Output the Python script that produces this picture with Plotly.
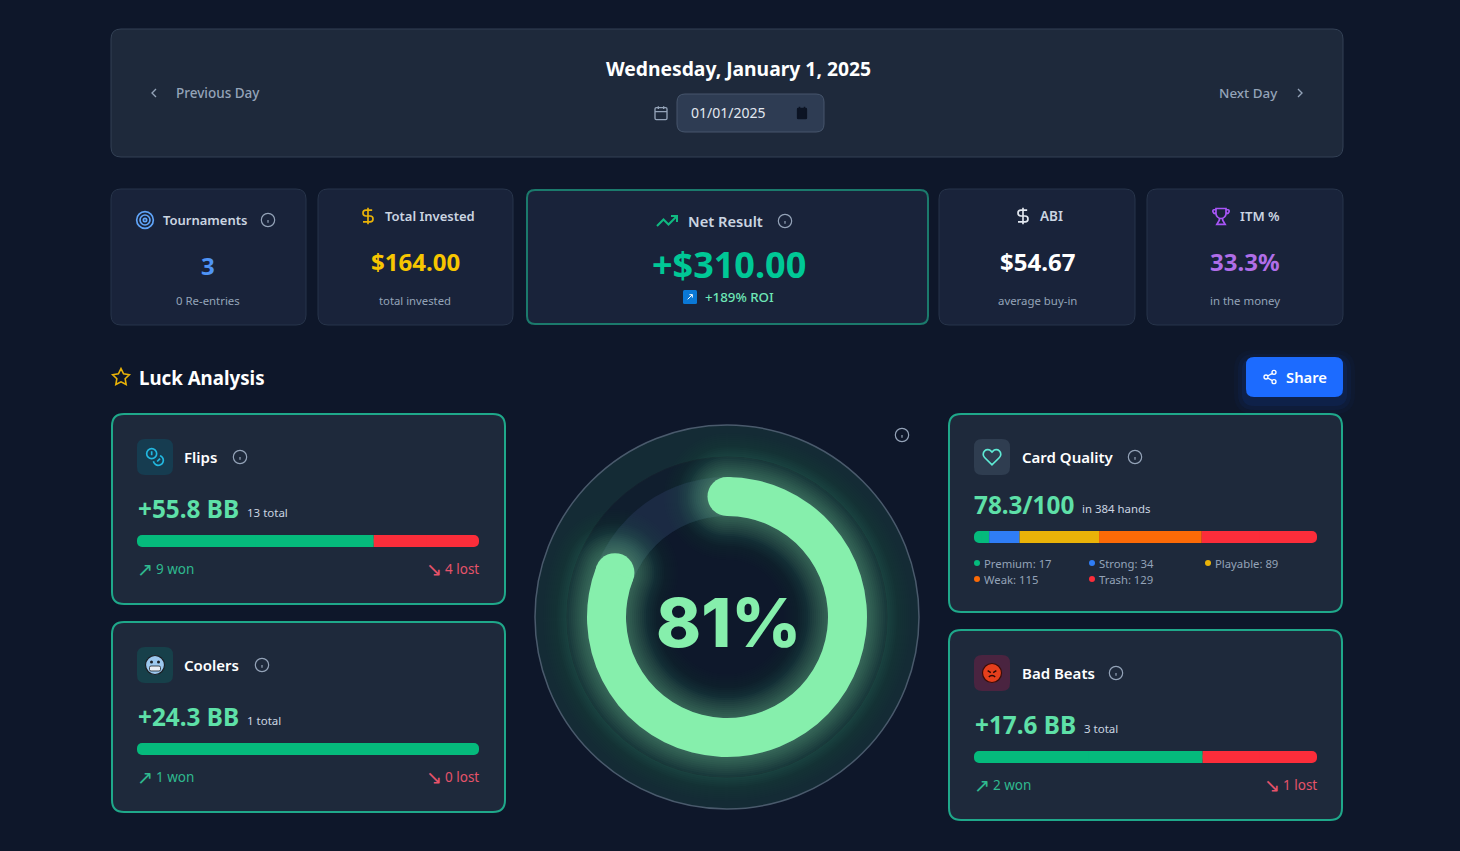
import re
import numpy as np
import plotly.graph_objects as go

# --- data ---
date_title = "Wednesday, January 1, 2025"
date_value = "01/01/2025"

stat_titles = ["Tournaments", "Total Invested", "Net Result", "ABI", "ITM %"]
stat_values = ["3", "$164.00", "+$310.00", "$54.67", "33.3%"]
stat_notes = ["0 Re-entries", "total invested", "+189% ROI", "average buy-in", "in the money"]

card_names = ["Flips", "Coolers", "Bad Beats"]
card_scores = ["+55.8 BB", "+24.3 BB", "+17.6 BB"]
card_totals = [13, 1, 3]
card_won = [9, 1, 2]
card_lost = [4, 0, 1]

quality_score = "78.3/100"
quality_hands = 384
hand_tiers = ["Premium", "Strong", "Playable", "Weak", "Trash"]
hand_counts = [17, 34, 89, 115, 129]

gauge_value = 81

# --- style ---
W, H = 1460, 851
FONT = "Noto Sans"
BG = "#0e172a"
PANEL = "#1e293b"
STAT = "#19233a"
TEAL = "#1fa88a"
GREEN = "#05ba7c"
RED = "#fb2d3a"
TIER_COLORS = ["#05ba7c", "#2f7df6", "#eab308", "#fb6a07", "#fb2d3a"]
GAUGE = "#86efac"
MUTED = "#94a3b8"

fig = go.Figure()
shapes = []
annotations = []
axis_count = [1]


def rrect(x0, y0, x1, y1, r):
    return (f"M{x0 + r} {y0} L{x1 - r} {y0} Q{x1} {y0} {x1} {y0 + r} L{x1} {y1 - r} Q{x1} {y1} {x1 - r} {y1} "
            f"L{x0 + r} {y1} Q{x0} {y1} {x0} {y1 - r} L{x0} {y0 + r} Q{x0} {y0} {x0 + r} {y0} Z")


def box(x0, y0, x1, y1, r, fill, border=None, width=1):
    shapes.append(dict(type="path", path=rrect(x0, y0, x1, y1, r), xref="x", yref="y", fillcolor=fill,
                       line=dict(color=border or "rgba(0,0,0,0)", width=width if border else 0), layer="below"))


def circle(cx, cy, r, fill="rgba(0,0,0,0)", border=None, width=1, layer="below"):
    shapes.append(dict(type="circle", xref="x", yref="y", x0=cx - r, x1=cx + r, y0=cy - r, y1=cy + r, fillcolor=fill,
                       line=dict(color=border or "rgba(0,0,0,0)", width=width if border else 0), layer=layer))


def icon(d, cx, cy, size, color, width=None, fill="rgba(0,0,0,0)"):
    # paths are written in a 24x24 box with absolute commands only
    scale = size / 24
    nums = iter(range(10000))

    def conv(m):
        i = next(nums)
        v = float(m.group())
        return f"{(cx if i % 2 == 0 else cy) + (v - 12) * scale:.2f}"

    path = re.sub(r"-?\d+\.?\d*", conv, d)
    shapes.append(dict(type="path", path=path, xref="x", yref="y", fillcolor=fill, layer="above",
                       line=dict(color=color, width=width if width is not None else 2 * scale)))


def ring(x, y, r):
    k = 0.5523 * r
    return (f"M{x + r} {y} C{x + r} {y + k} {x + k} {y + r} {x} {y + r} C{x - k} {y + r} {x - r} {y + k} {x - r} {y} "
            f"C{x - r} {y - k} {x - k} {y - r} {x} {y - r} C{x + k} {y - r} {x + r} {y - k} {x + r} {y} Z")


def arc(x, y, r, a0, a1, n=14):
    pts = [(x + r * np.cos(np.radians(a)), y + r * np.sin(np.radians(a))) for a in np.linspace(a0, a1, n)]
    return "L" + " L".join(f"{px:.2f} {py:.2f}" for px, py in pts)


def label(x, y, text, size, color, weight=400, anchor="left", family=FONT):
    # Noto sits a little low compared with the reference, large sizes more so
    y = y - (1.5 if 24 <= size < 30 else 0.5)
    annotations.append(dict(x=x, y=y, xref="x", yref="y", text=text, showarrow=False, xanchor=anchor, yanchor="middle",
                            borderpad=0, borderwidth=0, font=dict(family=family, size=size, color=color, weight=weight)))


def info(cx, cy):
    icon(ring(12, 12, 10) + " M12 16 L12 12 M12 8 L12.01 8", cx, cy, 16, "#94a3b8", 1.2)


def stacked_bar(values, colors, x0, x1, y0, y1):
    # one hidden axis pair per bar, sized to the track in pixels
    axis_count[0] += 1
    n = axis_count[0]
    total = sum(values)
    fig.layout[f"xaxis{n}"] = dict(domain=[x0 / W, x1 / W], range=[0, total], visible=False, anchor=f"y{n}", fixedrange=True)
    fig.layout[f"yaxis{n}"] = dict(domain=[1 - y1 / H, 1 - y0 / H], range=[-0.5, 0.5], visible=False, anchor=f"x{n}", fixedrange=True)

    def seg(base, length, color, radius=0):
        fig.add_trace(go.Bar(y=[0], x=[length], base=[base], orientation="h", width=1, showlegend=False, hoverinfo="skip",
                             marker=dict(color=color, line_width=0, cornerradius=radius), xaxis=f"x{n}", yaxis=f"y{n}"))

    segs = []
    start = 0
    for v, c in zip(values, colors):
        if v > 0:
            segs.append((start, v, c))
        start += v
    # cornerradius rounds both ends, so the inner end gets squared off again
    for i, (s, v, c) in enumerate(segs):
        if len(segs) == 1:
            seg(s, v, c, 5)
        elif i == 0:
            seg(s, v, c, 5)
            seg(s + v / 2, v / 2, c)
        elif i == len(segs) - 1:
            seg(s, v, c, 5)
            seg(s, v / 2, c)
        else:
            seg(s, v, c)


# --- top date panel ---
box(111, 29, 1343, 157, 10, PANEL, "#334155")
label(738.5, 68.5, date_title, 19.3, "white", 700, "center")
icon("M15 18 L9 12 L15 6", 154, 93, 16, MUTED)
label(176, 93, "Previous Day", 13.5, MUTED, 500)
label(1278, 93, "Next Day", 13.4, MUTED, 500, "right")
icon("M9 18 L15 12 L9 6", 1300, 93, 16, MUTED)
cal = rrect(3, 4, 21, 22, 2) + " M16 2 L16 6 M8 2 L8 6 M3 10 L21 10"
icon(cal, 661, 113, 16, MUTED)
box(677, 94, 824, 132, 8, "#2e3c53", "#46556c")
label(691, 113, date_value, 14, "#e2e8f0")
icon(rrect(5, 5, 19, 21, 1) + " M8 2 L8 5 M16 2 L16 5", 802, 113, 15, "#0c1424", 1.5, "#0c1424")

# --- stat cards ---
stat_boxes = [(111, 306), (318, 513), (526, 929), (939, 1135), (1147, 1343)]
stat_colors = ["#4f94f5", "#f7c600", "#00c896", "white", "#b06ee8"]
for i, (x0, x1) in enumerate(stat_boxes):
    if i == 2:
        box(x0 + 1, 190, x1 - 1, 324, 8, STAT, "#1b7a6c", 2)
    else:
        box(x0, 189, x1, 325, 10, STAT, "#27344a")

label(163, 220, stat_titles[0], 13, "#cbd5e1", 600)
icon(ring(12, 12, 10) + " " + ring(12, 12, 6) + " " + ring(12, 12, 2), 145, 220, 20, "#60a5fa")
info(268, 220)
label(208, 267, stat_values[0], 24, stat_colors[0], 700, "center")
label(208, 301, stat_notes[0], 11.4, MUTED, 400, "center")

dollar = "M12 2 L12 22 M17 5 L9.5 5 C7.57 5 6 6.57 6 8.5 C6 10.43 7.57 12 9.5 12 L14.5 12 C16.43 12 18 13.57 18 15.5 C18 17.43 16.43 19 14.5 19 L6 19"
icon(dollar, 368, 216, 20, "#eab308")
label(385, 216, stat_titles[1], 13, "#cbd5e1", 600)
label(415, 263, stat_values[1], 24, stat_colors[1], 700, "center")
label(415, 301, stat_notes[1], 11.3, MUTED, 400, "center")

icon("M22 7 L13.5 15.5 L8.5 10.5 L2 17 M16 7 L22 7 L22 13", 667, 221, 24, "#10b981")
label(688, 221, stat_titles[2], 14.7, "#cbd5e1", 600)
info(785, 221)
label(729, 265, stat_values[2], 36, stat_colors[2], 700, "center")
box(683, 290, 697, 304, 1.5, "#0a78d6")
icon("M8 16 L16 8 M11 8 L16 8 L16 13", 690, 297, 14, "white", 1)
label(705, 297, stat_notes[2], 13.3, "#6ee7b7", 500)

icon(dollar, 1023, 216, 20, "#e2e8f0")
label(1040, 216, stat_titles[3], 13.5, "#cbd5e1", 600)
label(1037, 263, stat_values[3], 24, stat_colors[3], 700, "center")
label(1037, 301, stat_notes[3], 11.4, MUTED, 400, "center")

trophy = ("M6 3 L18 3 L18 9 C18 12.3 15.3 15 12 15 C8.7 15 6 12.3 6 9 Z M6 4.5 L3.5 4.5 C1.5 4.5 1.5 9 6 9.5 "
          "M18 4.5 L20.5 4.5 C22.5 4.5 22.5 9 18 9.5 M10 15 L10 17 L7 22 L17 22 L14 17 L14 15")
icon(trophy, 1221, 216, 20, "#a855f7")
label(1240, 216, stat_titles[4], 13.2, "#cbd5e1", 600)
label(1245, 263, stat_values[4], 24, stat_colors[4], 700, "center")
label(1245, 301, stat_notes[4], 11.4, MUTED, 400, "center")

# --- section header ---
star = "M12 2 L15.09 8.26 L22 9.27 L17 14.14 L18.18 21.02 L12 17.77 L5.82 21.02 L7 14.14 L2 9.27 L8.91 8.26 Z"
icon(star, 121, 377, 20, "#eab308", 1.6)
label(139, 378, "Luck Analysis", 18.7, "white", 700)
for grow, alpha in [(12, 0.03), (8, 0.05), (4, 0.08)]:
    box(1246 - grow, 357 - grow + 5, 1343 + grow, 397 + grow + 5, 8 + grow, f"rgba(29,107,255,{alpha})")
box(1246, 357, 1343, 397, 8, "#1c6bff")
share = (ring(18, 5, 3) + " " + ring(6, 12, 3) + " " + ring(18, 19, 3) + " M8.59 13.51 L15.42 17.49 M15.41 6.51 L8.59 10.49")
icon(share, 1270, 377, 16, "white")
label(1286, 377, "Share", 14.8, "white", 600)

# --- luck cards ---
card_boxes = [(111, 506, 413, 605), (111, 506, 621, 813), (948, 1343, 629, 821)]
icon_fills = ["#163c50", "#17404a", "#4a2440"]
title_ends = [240, 262, 1116]
title_lefts = [184, 184, 1022]
bar_rights = [479, 479, 1317]
for i, (x0, x1, y0, y1) in enumerate(card_boxes):
    box(x0 + 1, y0 + 1, x1 - 1, y1 - 1, 12, PANEL, TEAL, 2)
    box(x0 + 26, y0 + 26, x0 + 62, y0 + 62, 8, icon_fills[i])
    label(title_lefts[i], y0 + 44, card_names[i], 15, "white", 600)
    info(title_ends[i], y0 + 44)
    label(x0 + 27, y0 + 97, card_scores[i], 24.3, "#5ee0a8", 700)
    label(x0 + 136, y0 + 100, f"{card_totals[i]} total", 11.5, "#cbd5e1")
    stacked_bar([card_won[i], card_lost[i]], [GREEN, RED], x0 + 26, bar_rights[i], y0 + 122, y0 + 134)
    label(x0 + 26, y0 + 156, "↗", 19, "#2fb98f", family="DejaVu Sans")
    label(x0 + 45, y0 + 156, f"{card_won[i]} won", 13.5, "#2fb98f")
    label(bar_rights[i], y0 + 156, f"{card_lost[i]} lost", 13.5, "#e5536a", 400, "right")
    label(bar_rights[i] - 53, y0 + 156, "↘", 19, "#e5536a", family="DejaVu Sans")

# flips icon
icon(ring(8, 8, 6) + " M7 6 L8 6 L8 10 M18.09 10.37 " + arc(16, 16, 6, -70, 170) +
     " M16.71 13.88 L17.41 14.59 L14.59 17.41", 155, 457, 20, "#22b8e0")

# cooler face
circle(155, 665, 9.5, "#9cc8ee", "#1b1f24", 1.2, "above")
circle(151.5, 662, 1.5, "#1b1f24", layer="above")
circle(158.5, 662, 1.5, "#1b1f24", layer="above")
shapes.append(dict(type="path", path=rrect(149.5, 666, 160.5, 671, 1.5), xref="x", yref="y", fillcolor="#e8eef5",
                   line=dict(color="#1b1f24", width=0.8), layer="above"))

# angry face
circle(992, 673, 9.5, "#e63f1c", "#3a0c08", 1.2, "above")
icon("M6.5 9 L10.5 11.5 M17.5 9 L13.5 11.5 M8 17 C10 14.5 14 14.5 16 17", 992, 673, 19, "#2a0806", 1.4)

# card quality
box(949, 414, 1342, 612, 12, PANEL, TEAL, 2)
box(974, 439, 1010, 475, 8, "#2f3d50")
heart = "M20.8 4.6 C18.6 2.5 15.1 2.7 13.1 5 L12 6.1 L10.9 5 C8.9 2.7 5.4 2.5 3.2 4.6 C0.9 6.8 0.9 10.4 3.1 12.6 L12 21.5 L20.9 12.6 C23.1 10.4 23.1 6.8 20.8 4.6 Z"
icon(heart, 992, 457, 20, "#5eead4")
label(1022, 457, "Card Quality", 15, "white", 600)
info(1135, 457)
label(974, 506, quality_score, 24.3, "#5ee0a8", 700)
label(1082, 509, f"in {quality_hands} hands", 11.4, "#cbd5e1")
stacked_bar(hand_counts, TIER_COLORS, 974, 1317, 531, 543)
tier_x = [977, 1092, 1208, 977, 1092]
tier_y = [564, 564, 564, 580, 580]
for tier, count, color, tx, ty in zip(hand_tiers, hand_counts, TIER_COLORS, tier_x, tier_y):
    circle(tx, ty - 1, 3, color)
    label(tx + 7, ty, f"{tier}: {count}", 11.3, MUTED)

# --- gauge ---
CX, CY = 727, 617
R_MID, R_HALF = 120.5, 19.5
info(902, 435)
circle(CX, CY, 192, "#142b35", "#4a5a6c", 1.5)
circle(CX, CY, 160, "#101e2e", "#14202e", 1)
circle(CX, CY, 101, "#0e182b")
circle(CX, CY, R_MID, border="#1b2a43", width=39)

end_deg = gauge_value / 100 * 360
end_rad = np.radians(end_deg)
cap_x = [CX, CX + R_MID * np.sin(end_rad)]
cap_y = [CY - R_MID, CY - R_MID * np.cos(end_rad)]


def pie_domain(r):
    return dict(x=[(CX - r) / W, (CX + r) / W], y=[1 - (CY + r) / H, 1 - (CY - r) / H])


def arc_outline(spread):
    # the arc with round caps, grown by spread px, as one closed outline
    cap_r = R_HALF + spread
    outer = R_MID + cap_r
    inner = max(R_MID - cap_r, 1)
    pts = []
    for d in np.linspace(0, end_deg, 90):
        t = np.radians(d)
        pts.append((CX + outer * np.sin(t), CY - outer * np.cos(t)))
    for a in np.linspace(0, 180, 24):
        t = np.radians(a)
        radial = cap_r * np.cos(t)
        along = cap_r * np.sin(t)
        pts.append((cap_x[1] + radial * np.sin(end_rad) + along * np.cos(end_rad),
                    cap_y[1] - radial * np.cos(end_rad) + along * np.sin(end_rad)))
    for d in np.linspace(end_deg, 0, 90):
        t = np.radians(d)
        pts.append((CX + inner * np.sin(t), CY - inner * np.cos(t)))
    for a in np.linspace(180, 0, 24):
        t = np.radians(a)
        radial = cap_r * np.cos(t)
        along = cap_r * np.sin(t)
        pts.append((cap_x[0] - along, cap_y[0] - radial))
    return "M" + " L".join(f"{px:.1f} {py:.1f}" for px, py in pts) + " Z"


# glow: grown outlines stacked from wide and faint to tight and stronger
for spread in range(44, 0, -2):
    alpha = 0.006 if spread > 30 else 0.016 if spread > 20 else 0.035
    shapes.append(dict(type="path", path=arc_outline(spread), xref="x", yref="y", layer="below", line_width=0,
                       fillcolor=f"rgba(134,239,172,{alpha})"))

fig.add_trace(go.Scatter(x=cap_x, y=cap_y, mode="markers", showlegend=False, hoverinfo="skip",
                         marker=dict(size=39, color=GAUGE, line_width=0)))
fig.add_trace(go.Pie(values=[gauge_value, 100 - gauge_value], sort=False, direction="clockwise", rotation=0,
                     hole=101 / 140, domain=pie_domain(140), textinfo="none", hoverinfo="skip", showlegend=False,
                     marker=dict(colors=[GAUGE, "rgba(0,0,0,0)"], line_width=0)))
label(CX + 1, CY + 5, f"{gauge_value}%", 68, GAUGE, 800, "center", "Inter")

fig.update_layout(
    width=W, height=H, margin=dict(l=0, r=0, t=0, b=0), paper_bgcolor=BG, plot_bgcolor="rgba(0,0,0,0)",
    barmode="overlay", showlegend=False, shapes=shapes, annotations=annotations,
    xaxis=dict(range=[0, W], domain=[0, 1], visible=False, fixedrange=True),
    yaxis=dict(range=[H, 0], domain=[0, 1], visible=False, fixedrange=True),
)

fig.write_html("out.html", config=dict(displayModeBar=False),
               post_script=f"document.body.style.margin='0';document.body.style.background='{BG}';document.documentElement.style.overflow='hidden';")
